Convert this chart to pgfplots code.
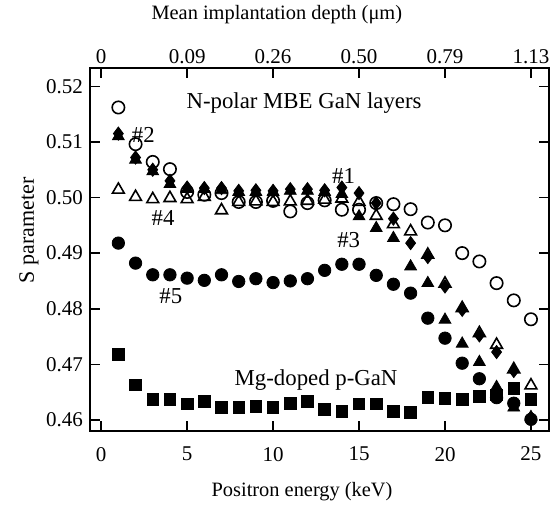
\documentclass[border=0pt]{standalone}
\usepackage{fontspec}
\setmainfont{Liberation Serif}
\usepackage{pgfplots}
\pgfplotsset{compat=1.18}

\pgfplotstableread{
E S
1 0.5162
2 0.5096
3 0.5064
4 0.5051
5 0.5010
6 0.5005
7 0.5008
8 0.4992
9 0.4992
10 0.4994
11 0.4975
12 0.4990
13 0.4995
14 0.4978
15 0.4978
16 0.4990
17 0.4988
18 0.4979
19 0.4955
20 0.4950
21 0.4900
22 0.4885
23 0.4846
24 0.4815
25 0.4781
}\opencirc

\pgfplotstableread{
E S
1 0.5115
2 0.5072
3 0.5050
4 0.5030
5 0.5018
6 0.5017
7 0.5017
8 0.5012
9 0.5013
10 0.5012
11 0.5015
12 0.5015
13 0.5013
14 0.5018
15 0.5008
16 0.4990
17 0.4962
18 0.4918
19 0.4893
20 0.4840
21 0.4798
22 0.4752
23 0.4722
24 0.4688
25 0.4603
}\diam

\pgfplotstableread{
E S
1 0.5110
2 0.5068
3 0.5047
4 0.5024
5 0.5015
6 0.5015
7 0.5013
8 0.5010
9 0.5010
10 0.5010
11 0.5012
12 0.5012
13 0.5010
14 0.5006
15 0.4966
16 0.4945
17 0.4927
18 0.4876
19 0.4846
20 0.4780
21 0.4737
22 0.4704
23 0.4659
24 0.4622
25 0.4605
}\ftri

\pgfplotstableread{
E S
1 0.5014
2 0.5001
3 0.4997
4 0.4999
5 0.4997
6 0.5001
7 0.4977
8 0.4992
9 0.4993
10 0.4992
11 0.4993
12 0.4994
13 0.4996
14 0.4998
15 0.4992
16 0.4967
17 0.4952
18 0.4939
19 0.4897
20 0.4845
21 0.4801
22 0.4756
23 0.4735
24 0.4691
25 0.4662
}\otri

\pgfplotstableread{
E S
1 0.4918
2 0.4882
3 0.4861
4 0.4861
5 0.4855
6 0.4851
7 0.4861
8 0.4849
9 0.4854
10 0.4847
11 0.4850
12 0.4854
13 0.4869
14 0.4880
15 0.4880
16 0.4860
17 0.4844
18 0.4828
19 0.4783
20 0.4747
21 0.4702
22 0.4674
23 0.4640
24 0.4630
25 0.4601
}\fcirc

\pgfplotstableread{
E S
1 0.4718
2 0.4663
3 0.4637
4 0.4637
5 0.4629
6 0.4633
7 0.4623
8 0.4623
9 0.4624
10 0.4623
11 0.4630
12 0.4633
13 0.4619
14 0.4615
15 0.4629
16 0.4629
17 0.4615
18 0.4613
19 0.4641
20 0.4639
21 0.4637
22 0.4642
23 0.4645
24 0.4657
25 0.4637
}\sq

\begin{document}
\begin{tikzpicture}
\pgfplotsset{
  every axis/.append style={
    width=229.5pt, height=181.5pt, scale only axis,
    xmin=-0.65, xmax=26.05, ymin=0.458, ymax=0.5233,
    tick align=inside, major tick length=5pt,
    tick style={line width=0.8pt, black},
    axis line style={line width=0.8pt},
    /pgf/number format/assume math mode=true,
    tick label style={font=\fontsize{10.5}{12}\selectfont},
  }
}
\begin{axis}[
  name=main,
  xtick={0,5,...,25},
  ytick={0.46,0.47,0.48,0.49,0.50,0.51,0.52},
  yticklabel style={/pgf/number format/.cd, fixed, fixed zerofill, precision=2},
  xticklabel style={yshift=-4.5pt},
  xlabel={Positron energy (keV)},
  xlabel style={font=\fontsize{10.2}{12}\selectfont, inner sep=0pt, at={(axis description cs:0.462,0)}, anchor=center, yshift=-30.5pt},
  ylabel={S parameter},
  ylabel style={font=\fontsize{11}{13}\selectfont, inner sep=0pt, at={(axis description cs:0,0.553)}, anchor=center, yshift=30.5pt},
]
\addplot[only marks, mark=*, mark size=3.1pt, black] table[x=E,y=S]{\fcirc};
\addplot[only marks, mark=square*, mark size=2.9pt, black] table[x=E,y=S]{\sq};
\addplot[only marks, mark=diamond*, mark size=3.3pt, black] table[x=E,y=S]{\diam};
\addplot[only marks, mark=triangle*, mark size=3.4pt, black] table[x=E,y=S]{\ftri};
\addplot[only marks, mark=triangle, mark size=3.4pt, black, mark options={line width=0.8pt}] table[x=E,y=S]{\otri};
\addplot[only marks, mark=o, mark size=3.1pt, black, mark options={line width=0.8pt}] table[x=E,y=S]{\opencirc};
\node[anchor=center, font=\fontsize{11.4}{13}\selectfont] at (axis cs:11.8,0.5170) {N-polar MBE GaN layers};
\node[anchor=center, font=\fontsize{11.4}{13}\selectfont] at (axis cs:12.5,0.4672) {Mg-doped p-GaN};
\node[anchor=center, font=\fontsize{11.4}{13}\selectfont] at (axis cs:2.45,0.5113) {\#2};
\node[anchor=center, font=\fontsize{11.4}{13}\selectfont] at (axis cs:14.1,0.5039) {\#1};
\node[anchor=center, font=\fontsize{11.4}{13}\selectfont] at (axis cs:3.6,0.4963) {\#4};
\node[anchor=center, font=\fontsize{11.4}{13}\selectfont] at (axis cs:14.4,0.4924) {\#3};
\node[anchor=center, font=\fontsize{11.4}{13}\selectfont] at (axis cs:4.05,0.4823) {\#5};
\coordinate (frsw) at (rel axis cs:0,0);
\coordinate (frne) at (rel axis cs:1,1);
\end{axis}
\begin{axis}[
  axis x line*=top, hide y axis,
  xtick={0,5,...,25},
  xticklabels={0,0.09,0.26,0.50,0.79,1.13},
  xticklabel style={yshift=-1.5pt},
  xlabel={Mean implantation depth (μm)},
  xlabel style={font=\fontsize{10.2}{12}\selectfont, inner sep=0pt, at={(axis description cs:0.407,1)}, anchor=center, yshift=26.5pt},
]
\end{axis}
\pgfresetboundingbox
\path ([shift={(-45pt,-37.5pt)}]frsw) rectangle ([shift={(1pt,34pt)}]frne);
\end{tikzpicture}
\end{document}
